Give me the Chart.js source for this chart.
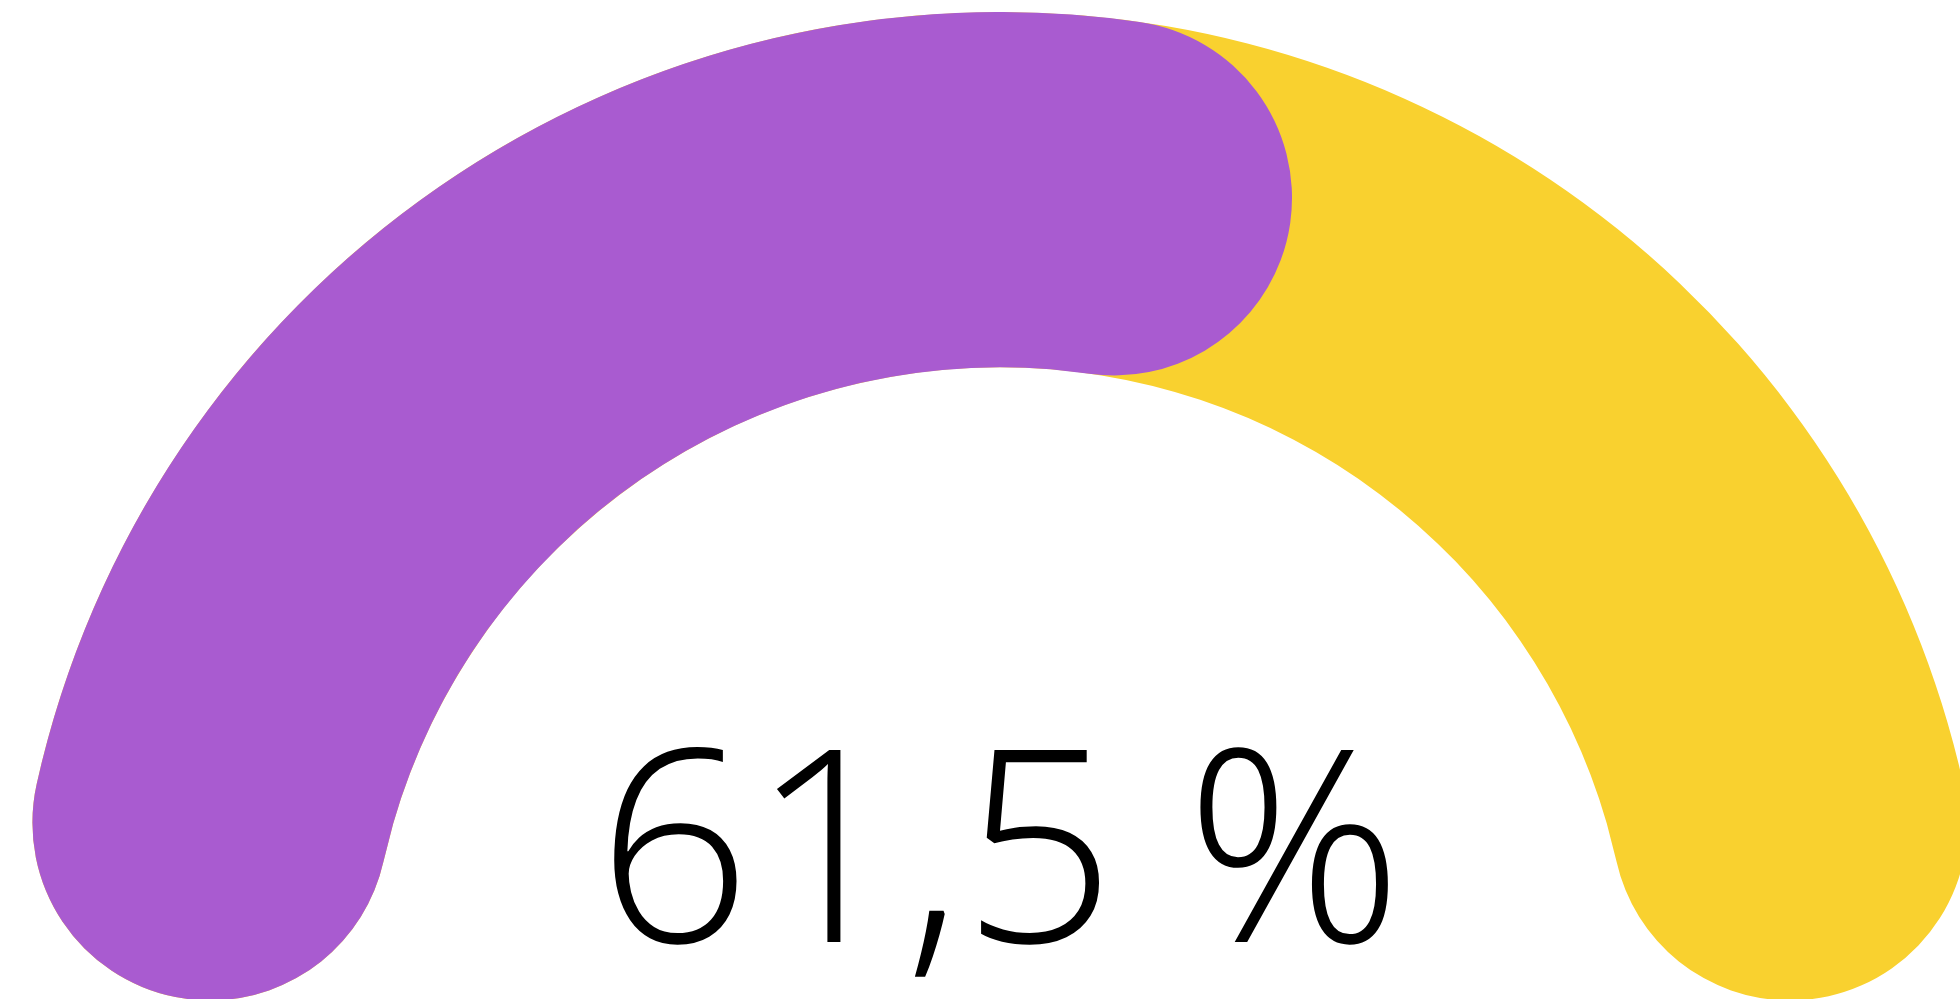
<!DOCTYPE html>
<html>
<head>
<meta charset="utf-8">
<script src="https://cdn.jsdelivr.net/npm/chart.js@4.4.1/dist/chart.umd.min.js"></script>
<style>
  html, body { margin: 0; padding: 0; width: 1960px; height: 1002px; overflow: hidden; background: #fff; }
  .gauge { position: absolute; left: 13px; top: 12px; width: 1974px; height: 987px; }
  .gauge canvas { position: absolute; left: 0; top: 0; }
</style>
</head>
<body>
<div class="gauge" id="back"><canvas id="gaugeBack"></canvas></div>
<div class="gauge" id="front"><canvas id="gaugeFront"></canvas></div>
<script>
var labels = ['Atteint', 'Restant'];
var values = [61.5, 38.5];
var fullTrack = [100];

var purple = '#a95bd0';
var yellow = '#f9d12f';

// common half-doughnut options
function gaugeOptions() {
  return {
    responsive: true,
    maintainAspectRatio: false,
    animation: false,
    rotation: -90,
    circumference: 180,
    cutout: '64%',
    layout: { padding: 0 },
    plugins: {
      legend: { display: false },
      tooltip: { enabled: false }
    },
    events: []
  };
}

// yellow track under everything, rounded at both ends
var backChart = new Chart(document.getElementById('gaugeBack'), {
  type: 'doughnut',
  data: {
    labels: ['Total'],
    datasets: [{
      data: fullTrack,
      backgroundColor: [yellow],
      borderWidth: 0,
      borderRadius: 1000
    }]
  },
  options: gaugeOptions()
});

var centerText = {
  id: 'centerText',
  afterDraw: function (chart) {
    var arc = chart.getDatasetMeta(0).data[0];
    if (!arc) return;
    var ctx = chart.ctx;
    var txt = String(values[0]).replace('.', ',') + ' %';
    ctx.save();
    ctx.font = '300 269px "Open Sans"';
    ctx.fillStyle = '#000';
    ctx.textAlign = 'center';
    ctx.textBaseline = 'alphabetic';
    ctx.fillText(txt, arc.x, arc.y - 57);
    ctx.restore();
  }
};

var frontChart = new Chart(document.getElementById('gaugeFront'), {
  type: 'doughnut',
  data: {
    labels: labels,
    datasets: [{
      data: values,
      backgroundColor: [purple, 'rgba(0,0,0,0)'],
      borderWidth: 0,
      borderRadius: 1000
    }]
  },
  options: gaugeOptions(),
  plugins: [centerText]
});
</script>
</body>
</html>
